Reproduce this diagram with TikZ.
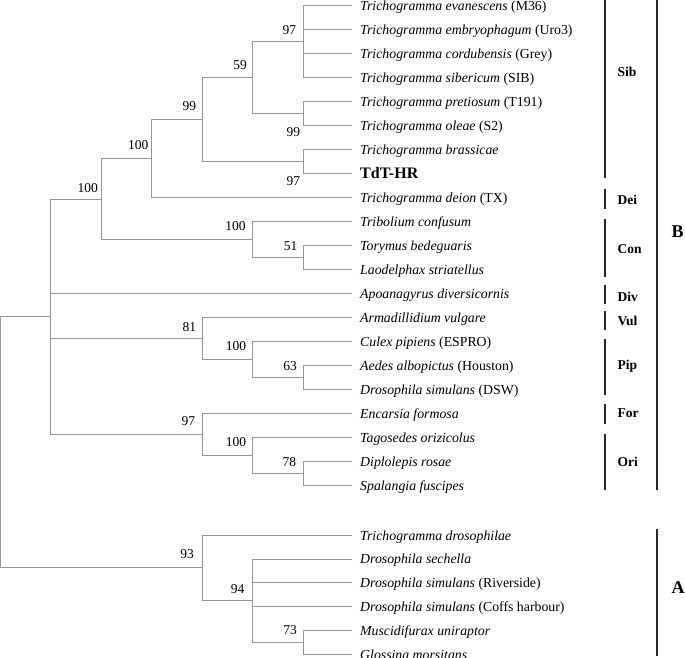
\documentclass[tikz,border=0pt]{standalone}
\usepackage{fontspec}
\setmainfont{Liberation Serif}
\definecolor{treegray}{RGB}{150,150,150}
\definecolor{barblack}{RGB}{40,40,40}
\tikzset{
  branch/.style={draw=treegray, line width=0.9pt},
  leaf/.style={anchor=west, inner xsep=8pt, inner ysep=0pt, text height=9.6pt, text depth=0pt, font=\fontsize{13.8}{16}\selectfont},
  boldleaf/.style={leaf, text height=10.8pt, font=\fontsize{16}{18}\selectfont\bfseries},
  boot/.style={anchor=base, inner sep=0pt, font=\fontsize{13.5}{16}\selectfont},
  grp/.style={anchor=west, inner sep=0pt, font=\fontsize{13.5}{16}\selectfont\bfseries},
  clade/.style={anchor=west, inner sep=0pt, font=\fontsize{18}{20}\selectfont\bfseries},
  bar/.style={draw=barblack, line width=2pt},
}
\begin{document}
\begin{tikzpicture}[x=1pt,y=-1pt]
\useasboundingbox (0,0) rectangle (685,658);

% ---------- leaves ----------
\node[leaf] (l0)  at (352,5.5)   {\textit{Trichogramma evanescens} (M36)};
\node[leaf] (l1)  at (352,29.5)  {\textit{Trichogramma embryophagum} (Uro3)};
\node[leaf] (l2)  at (352,53.5)  {\textit{Trichogramma cordubensis} (Grey)};
\node[leaf] (l3)  at (352,77.5)  {\textit{Trichogramma sibericum} (SIB)};
\node[leaf] (l4)  at (352,101.5) {\textit{Trichogramma pretiosum} (T191)};
\node[leaf] (l5)  at (352,125.5) {\textit{Trichogramma oleae} (S2)};
\node[leaf] (l6)  at (352,149.5) {\textit{Trichogramma brassicae}};
\node[boldleaf] (l7) at (352,173.5) {TdT-HR};
\node[leaf] (l8)  at (352,197.5) {\textit{Trichogramma deion} (TX)};
\node[leaf] (l9)  at (352,221.5) {\textit{Tribolium confusum}};
\node[leaf] (l10) at (352,245.5) {\textit{Torymus bedeguaris}};
\node[leaf] (l11) at (352,269.5) {\textit{Laodelphax striatellus}};
\node[leaf] (l12) at (352,293.5) {\textit{Apoanagyrus diversicornis}};
\node[leaf] (l13) at (352,317.5) {\textit{Armadillidium vulgare}};
\node[leaf] (l14) at (352,341.5) {\textit{Culex pipiens} (ESPRO)};
\node[leaf] (l15) at (352,365.5) {\textit{Aedes albopictus} (Houston)};
\node[leaf] (l16) at (352,389.5) {\textit{Drosophila simulans} (DSW)};
\node[leaf] (l17) at (352,413.5) {\textit{Encarsia formosa}};
\node[leaf] (l18) at (352,437.5) {\textit{Tagosedes orizicolus}};
\node[leaf] (l19) at (352,461.5) {\textit{Diplolepis rosae}};
\node[leaf] (l20) at (352,485.5) {\textit{Spalangia fuscipes}};
\node[leaf] (l21) at (352,535.3) {\textit{Trichogramma drosophilae}};
\node[leaf] (l22) at (352,559.1) {\textit{Drosophila sechella}};
\node[leaf] (l23) at (352,582.9) {\textit{Drosophila simulans} (Riverside)};
\node[leaf] (l24) at (352,606.7) {\textit{Drosophila simulans} (Coffs harbour)};
\node[leaf] (l25) at (352,630.5) {\textit{Muscidifurax uniraptor}};
\node[leaf] (l26) at (352,654.3) {\textit{Glossina morsitans}};

% ---------- internal nodes ----------
\coordinate (nA97) at (303,41.5);
\coordinate (nP99) at (303,113.5);
\coordinate (nP97) at (303,161.5);
\coordinate (n59)  at (252.5,77.5);
\coordinate (n99)  at (202,119.5);
\coordinate (n100c) at (151.5,158.5);
\coordinate (n51)  at (303,257.5);
\coordinate (nCon) at (252.5,239.5);
\coordinate (n100b) at (101,199);
\coordinate (n63)  at (303,377.5);
\coordinate (nPip) at (252.5,359.5);
\coordinate (n81)  at (202,338.5);
\coordinate (n78)  at (303,473.5);
\coordinate (nOri) at (252.5,455.5);
\coordinate (n97F) at (202,434.5);
\coordinate (nB)   at (50.5,316.75);
\coordinate (n73)  at (303,642.4);
\coordinate (n94)  at (252.5,600.75);
\coordinate (n93)  at (202,567.9);
\coordinate (root) at (0.8,442.4);

% ---------- branches ----------
\foreach \l in {l0,l1,l2,l3} \draw[branch] (nA97) |- (\l.west);
\foreach \l in {l4,l5} \draw[branch] (nP99) |- (\l.west);
\foreach \l in {l6,l7} \draw[branch] (nP97) |- (\l.west);
\draw[branch] (n59) |- (nA97);
\draw[branch] (n59) |- (nP99);
\draw[branch] (n99) |- (n59);
\draw[branch] (n99) |- (nP97);
\draw[branch] (n100c) |- (n99);
\draw[branch] (n100c) |- (l8.west);
\foreach \l in {l10,l11} \draw[branch] (n51) |- (\l.west);
\draw[branch] (nCon) |- (l9.west);
\draw[branch] (nCon) |- (n51);
\draw[branch] (n100b) |- (n100c);
\draw[branch] (n100b) |- (nCon);
\foreach \l in {l15,l16} \draw[branch] (n63) |- (\l.west);
\draw[branch] (nPip) |- (l14.west);
\draw[branch] (nPip) |- (n63);
\draw[branch] (n81) |- (l13.west);
\draw[branch] (n81) |- (nPip);
\foreach \l in {l19,l20} \draw[branch] (n78) |- (\l.west);
\draw[branch] (nOri) |- (l18.west);
\draw[branch] (nOri) |- (n78);
\draw[branch] (n97F) |- (l17.west);
\draw[branch] (n97F) |- (nOri);
\draw[branch] (nB) |- (n100b);
\draw[branch] (nB) |- (l12.west);
\draw[branch] (nB) |- (n81);
\draw[branch] (nB) |- (n97F);
\foreach \l in {l25,l26} \draw[branch] (n73) |- (\l.west);
\foreach \l in {l22,l23,l24} \draw[branch] (n94) |- (\l.west);
\draw[branch] (n94) |- (n73);
\draw[branch] (n93) |- (l21.west);
\draw[branch] (n93) |- (n94);
\draw[branch] (root) |- (nB);
\draw[branch] (root) |- (n93);

% ---------- bootstrap values ----------
\node[boot] (bA97) at (289.3,35)   {97};
\node[boot] (b59)  at (240,69.3)   {59};
\node[boot] (b99)  at (189.3,111)  {99};
\node[boot] (b100c) at (138.3,149.3) {100};
\node[boot] (b100b) at (87.7,192.7) {100};
\node[boot] (bP99) at (293.3,136)  {99};
\node[boot] (bP97) at (293.3,185)  {97};
\node[boot] (bCon) at (235.5,230)  {100};
\node[boot] (b51)  at (290.5,250)  {51};
\node[boot] (b81)  at (189.3,331.7) {81};
\node[boot] (bPip) at (236,350)    {100};
\node[boot] (b63)  at (290,370)    {63};
\node[boot] (b97F) at (188.3,425)  {97};
\node[boot] (bOri) at (236,446.7)  {100};
\node[boot] (b78)  at (289.3,466)  {78};
\node[boot] (b93)  at (187,558.3)  {93};
\node[boot] (b94)  at (237.7,593.3) {94};
\node[boot] (b73)  at (290,634)    {73};

% ---------- group bars ----------
\draw[bar] (605,0) -- (605,178);
\draw[bar] (605,188.5) -- (605,208.5);
\draw[bar] (605,218.5) -- (605,277);
\draw[bar] (605,285) -- (605,303.5);
\draw[bar] (605,310.5) -- (605,330);
\draw[bar] (605,338.5) -- (605,395);
\draw[bar] (605,403.5) -- (605,423.5);
\draw[bar] (605,433.5) -- (605,490);
\draw[bar] (657,0) -- (657,490);
\draw[bar] (657,528.5) -- (657,656);

\node[grp] (gSib) at (617.5,72)    {Sib};
\node[grp] (gDei) at (617.5,200)   {Dei};
\node[grp] (gCon) at (617.5,249.3) {Con};
\node[grp] (gDiv) at (617.5,296.7) {Div};
\node[grp] (gVul) at (617.5,321)   {Vul};
\node[grp] (gPip) at (617.5,366.7) {Pip};
\node[grp] (gFor) at (617.5,413.3) {For};
\node[grp] (gOri) at (617.5,461.7) {Ori};
\node[clade] (cB) at (671.5,231.7) {B};
\node[clade] (cA) at (671.5,587.3) {A};
\end{tikzpicture}
\end{document}
